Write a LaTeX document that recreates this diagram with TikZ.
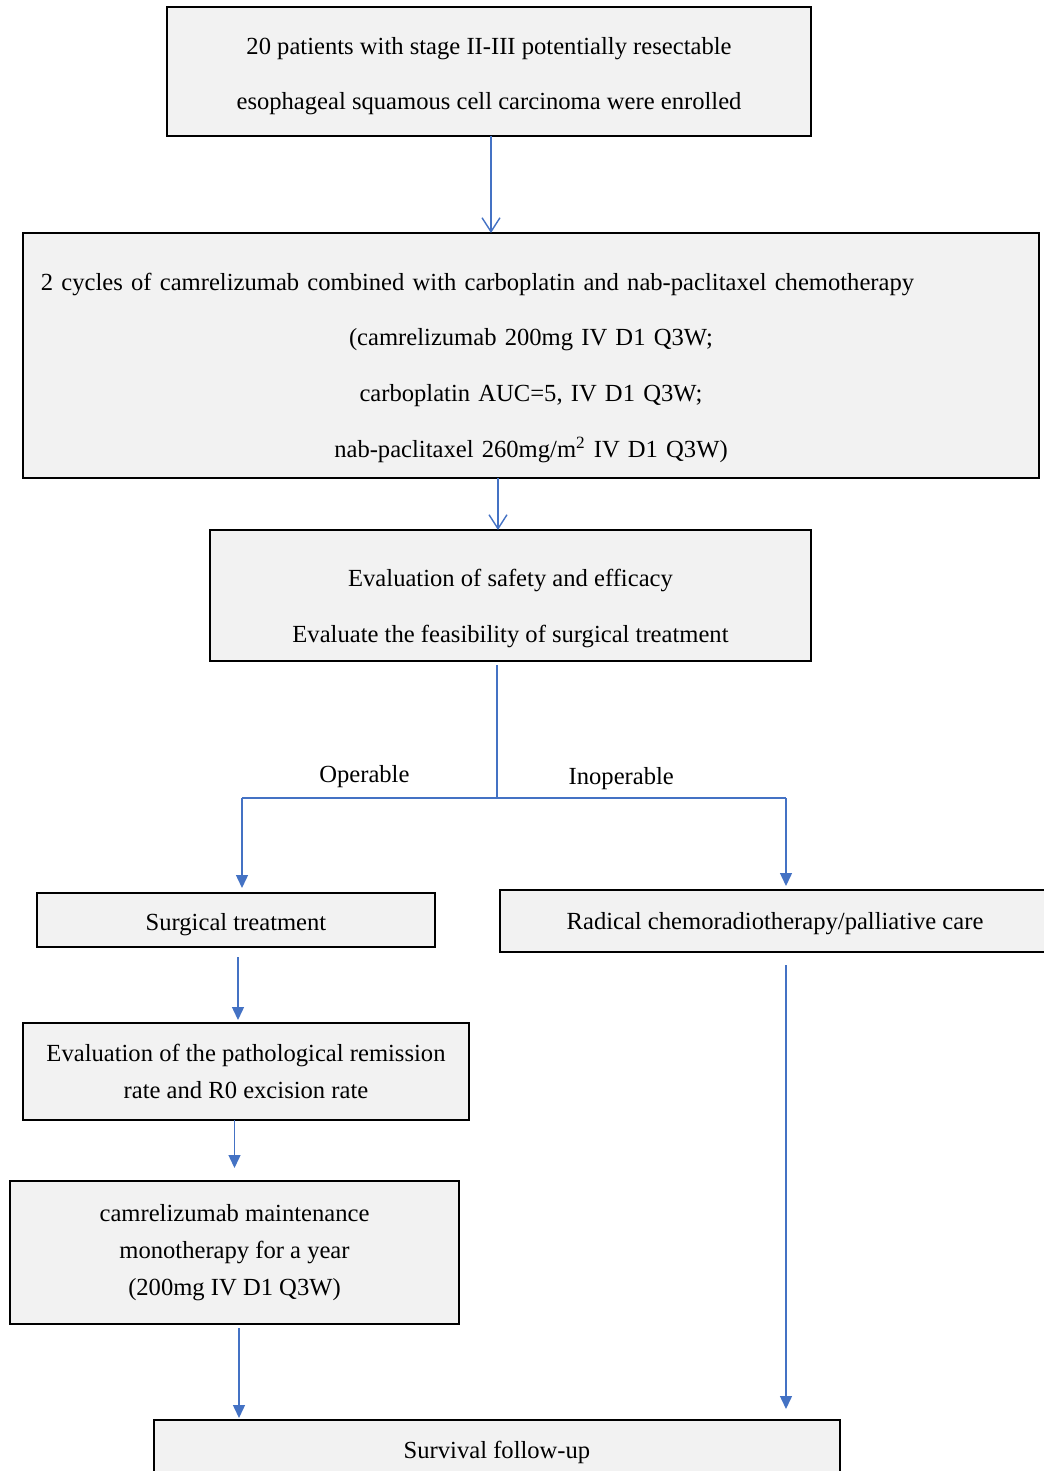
\documentclass[tikz,border=0pt]{standalone}
\usepackage{fontspec}
\setmainfont{Liberation Serif}
\usetikzlibrary{positioning,arrows.meta}
\definecolor{boxgray}{HTML}{F2F2F2}
\definecolor{linkblue}{HTML}{4472C4}
\newcommand{\padtop}[1]{\rule{0pt}{#1}}
\tikzset{
    box/.style={draw=black, line width=1.1pt, fill=boxgray, align=center, inner sep=0pt, outer sep=0pt, font=\fontsize{14}{31.8}\selectfont},
    tightbox/.style={box, font=\fontsize{14}{21}\selectfont},
    link/.style={draw=linkblue, line width=0.8pt},
    openlink/.style={link, -{Straight Barb[length=0.28cm, width=0.36cm]}},
    solidlink/.style={link, -{Triangle[length=0.26cm, width=0.24cm]}},
    branch/.style={font=\fontsize{14}{17}\selectfont, inner sep=1pt},
}

\begin{document}
\begin{tikzpicture}

    \useasboundingbox (0,0) rectangle (20.88,-29.42); % page frame
    \node [box, minimum width=12.88cm, minimum height=2.58cm] (enrol) at (9.78,-1.43) {\padtop{15pt}20 patients with stage II-III potentially resectable\\esophageal squamous cell carcinoma were enrolled}; % top box
    \node [box, minimum width=20.32cm, minimum height=4.9cm, text width=19.6cm, below=1.94cm of enrol, xshift=0.84cm] (induction) {\makebox[\linewidth][l]{\padtop{24pt}2 cycles of camrelizumab combined with carboplatin and nab-paclitaxel chemotherapy}\\(camrelizumab 200mg IV D1 Q3W;\\carboplatin AUC=5, IV D1 Q3W;\\nab-paclitaxel 260mg/m\textsuperscript{2} IV D1 Q3W)}; % regimen box
    \node [box, minimum width=12.02cm, minimum height=2.62cm, below=1.04cm of induction, xshift=-0.41cm] (assess) {\padtop{25pt}Evaluation of safety and efficacy\\Evaluate the feasibility of surgical treatment}; % evaluation box
    \node [box, minimum width=7.96cm, minimum height=1.08cm, below=4.64cm of assess, xshift=-5.49cm] (surgery) {\padtop{15pt}Surgical treatment}; % left branch
    \node [box, minimum width=11cm, minimum height=1.24cm, below=4.58cm of assess, xshift=5.29cm] (radical) {\padtop{13pt}Radical chemoradiotherapy/palliative care}; % right branch
    \node [tightbox, minimum width=8.92cm, minimum height=1.94cm, below=1.52cm of surgery, xshift=0.2cm] (pathology) {Evaluation of the pathological remission\\rate and R0 excision rate}; % pathology box
    \node [tightbox, minimum width=8.98cm, minimum height=2.86cm, below=1.22cm of pathology, xshift=-0.23cm] (maintain) {camrelizumab maintenance\\monotherapy for a year\\(200mg IV D1 Q3W)}; % maintenance box
    \node [box, minimum width=13.72cm, minimum height=1.2cm, below=1.92cm of maintain, xshift=5.25cm] (followup) {\padtop{13pt}Survival follow-up}; % bottom box

    \coordinate (split) at ([xshift=-0.27cm, yshift=-2.74cm]assess.south); % branch point
    \coordinate (opr) at ([xshift=0.12cm]surgery.north |- split); % left corner
    \coordinate (inopr) at ([xshift=0.22cm]radical.north |- split); % right corner

    \draw [openlink] ([xshift=0.04cm]enrol.south) -- ([xshift=0.04cm]enrol.south |- induction.north);
    \draw [openlink] ([xshift=-0.25cm]assess.north |- induction.south) -- ([xshift=-0.25cm]assess.north);
    \draw [link, shorten <=0.08cm] (assess.south -| split) -- (split);
    \draw [link] (opr) -- node [branch, above=0.15cm, pos=0.48] (oplabel) {Operable} (split) -- node [branch, above=0.12cm, pos=0.43] (inoplabel) {Inoperable} (inopr);
    \draw [solidlink, shorten >=0.1cm] (opr) -- (opr |- surgery.north);
    \draw [solidlink, shorten >=0.08cm] (inopr) -- (inopr |- radical.north);
    \draw [solidlink, shorten <=0.2cm, shorten >=0.06cm] ([xshift=0.04cm]surgery.south) -- ([xshift=0.04cm]surgery.south |- pathology.north);
    \draw [solidlink, shorten >=0.26cm] (maintain.north |- pathology.south) -- (maintain.north);
    \draw [solidlink, shorten <=0.08cm, shorten >=0.04cm] ([xshift=0.09cm]maintain.south) -- ([xshift=0.09cm]maintain.south |- followup.north);
    \draw [solidlink, shorten <=0.26cm, shorten >=0.22cm] ([xshift=0.22cm]radical.south) -- ([xshift=0.22cm]radical.south |- followup.north);

\end{tikzpicture}
\end{document}
